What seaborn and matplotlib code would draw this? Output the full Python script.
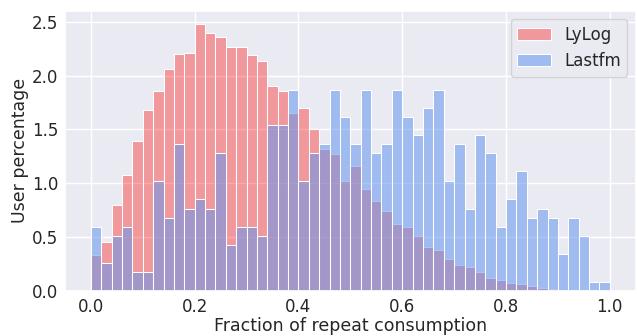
import numpy as np
import pandas as pd
import seaborn as sns
import matplotlib.pyplot as plt

# density per bin (50 bins of width 0.02 on [0, 1])
lylog = [0.33, 0.45, 0.80, 1.08, 1.39, 1.68, 1.86, 2.06, 2.20, 2.21,
         2.48, 2.40, 2.36, 2.27, 2.27, 2.19, 2.14, 1.90, 1.86, 1.65,
         1.70, 1.50, 1.32, 1.27, 1.02, 1.16, 0.95, 0.83, 0.74, 0.62,
         0.59, 0.51, 0.41, 0.38, 0.29, 0.24, 0.22, 0.17, 0.12, 0.10,
         0.07, 0.06, 0.04, 0.02, 0.015, 0.005, 0.0, 0.0, 0.0, 0.0]
lastfm = [0.59, 0.26, 0.51, 0.59, 0.17, 0.17, 1.02, 0.68, 1.36, 0.76,
          0.85, 0.76, 1.28, 0.42, 0.59, 0.59, 0.51, 1.54, 1.54, 1.87,
          1.02, 1.28, 1.36, 1.87, 1.62, 1.36, 1.87, 1.28, 1.36, 1.87,
          1.62, 1.45, 1.70, 1.87, 1.02, 1.36, 0.76, 1.45, 1.28, 0.59,
          0.85, 1.11, 0.68, 0.76, 0.68, 0.34, 0.68, 0.51, 0.08, 0.08]

centers = np.arange(50) * 0.02 + 0.01
df = pd.DataFrame({"x": centers, "lylog": lylog, "lastfm": lastfm})

sns.set_theme(style="darkgrid")
fig = plt.figure(figsize=(6.37, 3.36), dpi=100)
ax = fig.add_axes([0.102, 0.135, 0.896, 0.833])

sns.histplot(data=df, x="x", weights="lylog", binwidth=0.02, binrange=(0, 1),
             color="red", alpha=0.35, label="LyLog", ax=ax)
sns.histplot(data=df, x="x", weights="lastfm", binwidth=0.02, binrange=(0, 1),
             color="cornflowerblue", alpha=0.55, label="Lastfm", ax=ax)

ax.set_xlim(-0.05, 1.05)
ax.set_yticks([0, 0.5, 1.0, 1.5, 2.0, 2.5])
ax.set_xlabel("Fraction of repeat consumption", fontsize=12.5, labelpad=1)
ax.set_ylabel("User percentage", fontsize=12.5, labelpad=2)
ax.tick_params(labelsize=12, length=0, pad=5)
ax.legend(loc="upper right", fontsize=12)

fig.savefig("out.png", dpi=100)
